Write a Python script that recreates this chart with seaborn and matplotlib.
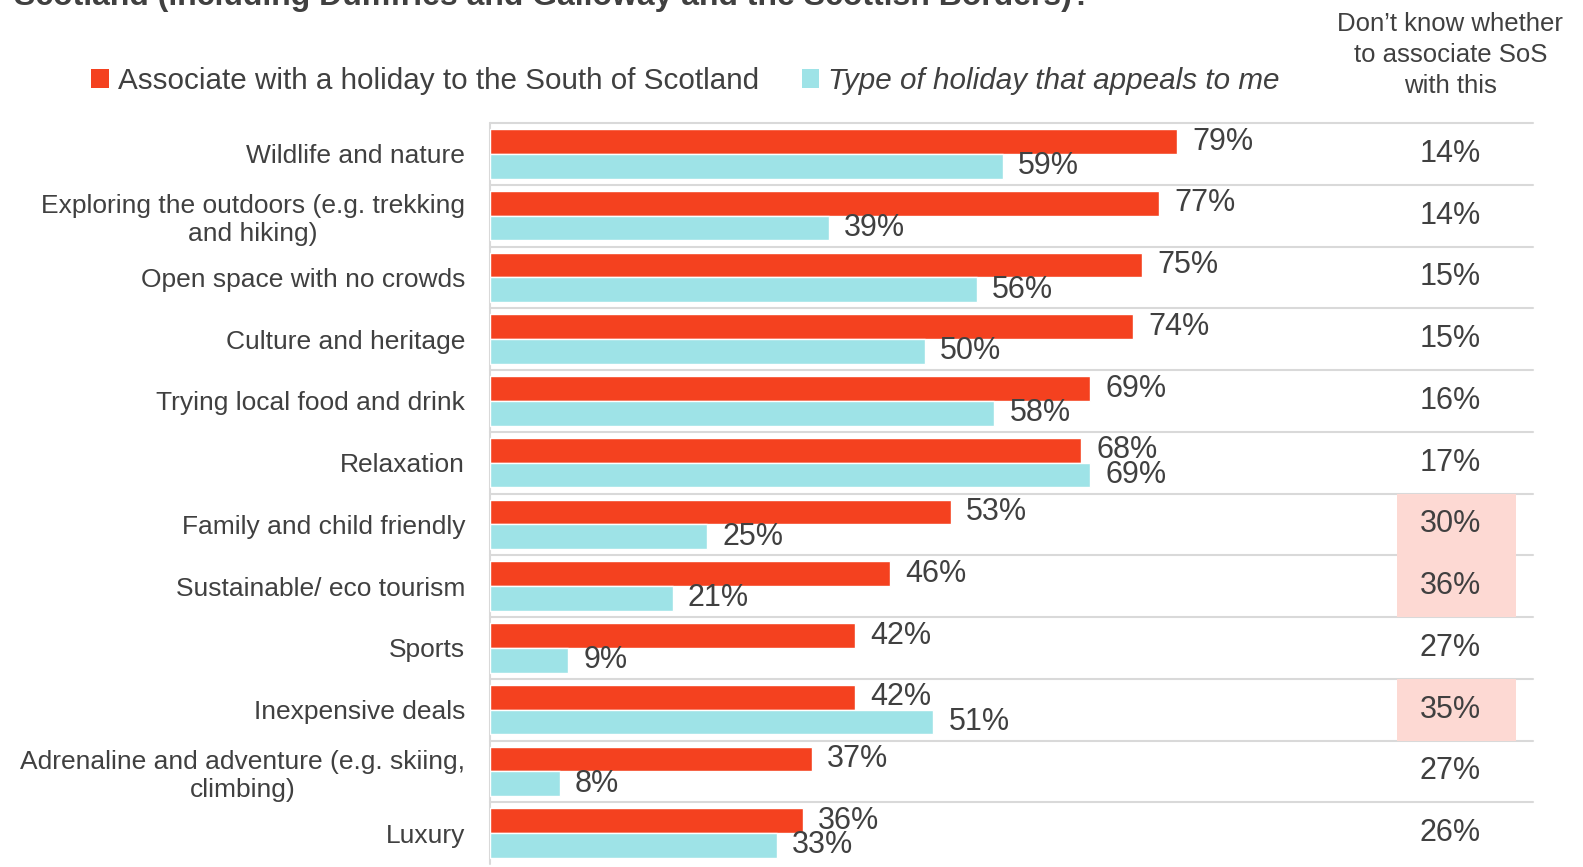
import pandas as pd
import seaborn as sns
import matplotlib
matplotlib.use("Agg")
import matplotlib.pyplot as plt
from matplotlib.patches import Patch, Rectangle

# data
activities = [
    "Wildlife and nature",
    "Exploring the outdoors (e.g. trekking\nand hiking)",
    "Open space with no crowds",
    "Culture and heritage",
    "Trying local food and drink",
    "Relaxation",
    "Family and child friendly",
    "Sustainable/ eco tourism",
    "Sports",
    "Inexpensive deals",
    "Adrenaline and adventure (e.g. skiing,\nclimbing)",
    "Luxury",
]
associate = [79, 77, 75, 74, 69, 68, 53, 46, 42, 42, 37, 36]
appeals = [59, 39, 56, 50, 58, 69, 25, 21, 9, 51, 8, 33]
dont_know = [14, 14, 15, 15, 16, 17, 30, 36, 27, 35, 27, 26]
highlighted = [False, False, False, False, False, False, True, True, False, True, False, False]

series_names = ["Associate with a holiday to the South of Scotland",
                "Type of holiday that appeals to me"]
colors = ["#F4411F", "#9EE3E7"]
TEXT = "#404040"
GRID = "#D9D9D9"

df = pd.DataFrame({
    "activity": activities * 2,
    "pct": associate + appeals,
    "series": [series_names[0]] * len(activities) + [series_names[1]] * len(activities),
})

sns.set_style("white")
plt.rcParams["font.family"] = ["Liberation Sans", "DejaVu Sans"]

fig = plt.figure(figsize=(15.83, 8.67), dpi=100)
ax = fig.add_axes([490 / 1583, 3 / 867, (1533 - 490) / 1583, (864 - 123) / 867])

sns.barplot(data=df, y="activity", x="pct", hue="series", orient="h",
            palette=colors, saturation=1, width=0.8, legend=False, ax=ax)

ax.set_xlim(0, 120)
ax.set_ylim(len(activities) - 0.5, -0.5)
ax.set_xlabel("")
ax.set_ylabel("")
ax.set_xticks([])
ax.tick_params(axis="y", length=0, pad=18, labelsize=19, labelcolor=TEXT)
for lab in ax.get_yticklabels():
    lab.set_multialignment("center")
for sp in ax.spines.values():
    sp.set_visible(False)

# row separators and left axis line
for i in range(len(activities)):
    ax.plot([0, 120], [i - 0.5, i - 0.5], color=GRID, lw=1.5, clip_on=False, zorder=0)
ax.plot([0, 0], [-0.5, len(activities) - 0.5], color=GRID, lw=1.5, clip_on=False, zorder=0)

# value labels
for cont in ax.containers:
    ax.bar_label(cont, fmt="{:.0f}%", padding=11, fontsize=22, color=TEXT)

# "don't know" column with highlights
col_x = 110.5
for i, (v, hl) in enumerate(zip(dont_know, highlighted)):
    if hl:
        ax.add_patch(Rectangle((104.3, i - 0.5), 13.7, 1, facecolor="#FDD9D3",
                               edgecolor="none", zorder=0.5, clip_on=False))
    ax.text(col_x, i, f"{v}%", ha="center", va="center", fontsize=22, color=TEXT)

ax.text(col_x, -1.6, "Don\u2019t know whether\nto associate SoS\nwith this",
        ha="center", va="center", fontsize=18.5, color=TEXT, linespacing=1.35,
        clip_on=False)

handles = [Patch(facecolor=c, edgecolor="none") for c in colors]
leg = fig.legend(handles, series_names, loc="center left",
                 bbox_to_anchor=(91 / 1583, 1 - 81 / 867), ncol=2, frameon=False,
                 fontsize=21.3, handlelength=0.6, handleheight=0.6,
                 handletextpad=0.3, columnspacing=1.45, borderpad=0, borderaxespad=0)
for t in leg.get_texts():
    t.set_color(TEXT)
leg.get_texts()[1].set_style("italic")

fig.text(0.009, 1 - 5 / 867, "Scotland (including Dumfries and Galloway and the Scottish Borders)?",
         fontsize=23, fontweight="bold", color=TEXT, va="baseline", ha="left")

fig.savefig("out.png", dpi=100)
